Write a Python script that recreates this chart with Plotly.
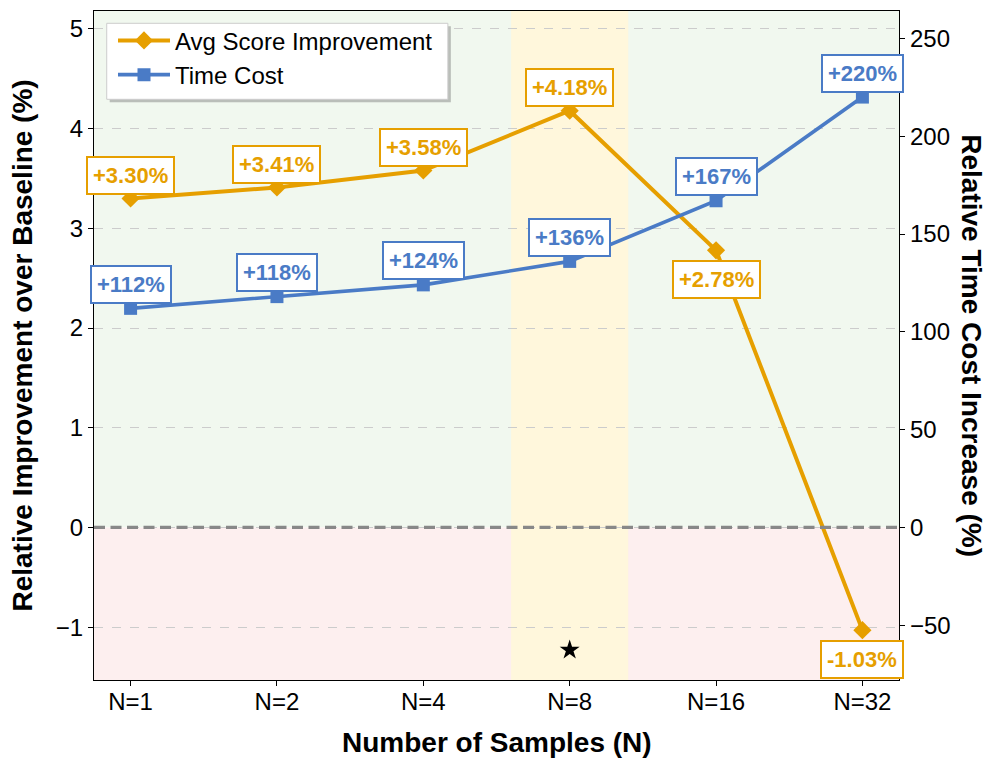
import plotly.graph_objects as go

categories = ["N=1", "N=2", "N=4", "N=8", "N=16", "N=32"]
score_improvement = [3.30, 3.41, 3.58, 4.18, 2.78, -1.03]
time_cost = [112, 118, 124, 136, 167, 220]
label_below = [False, False, False, False, True, True]
best_index = 3

ORANGE = "#E69F00"
BLUE = "#4A7BC6"
FONT = "Liberation Sans"

y_lo = min(score_improvement) - 0.5
y_hi = max(score_improvement) + 1.0
y2_hi = max(time_cost) * 1.2
y2_lo = y2_hi * y_lo / y_hi

fig = go.Figure()

# baseline at 0 drawn as a trace so it sits between the background and the data lines
fig.add_trace(go.Scatter(
    x=[-0.25, 5.25], y=[0, 0], mode="lines", yaxis="y", xaxis="x2",
    line=dict(color="#888888", width=3.2, dash="11px,5.5px"),
    showlegend=False, hoverinfo="skip",
))
fig.add_trace(go.Scatter(
    x=categories, y=score_improvement, name="Avg Score Improvement",
    mode="lines+markers", yaxis="y",
    line=dict(color=ORANGE, width=4),
    marker=dict(symbol="diamond", size=14, color=ORANGE),
))
fig.add_trace(go.Scatter(
    x=categories, y=time_cost, name="Time Cost",
    mode="lines+markers", yaxis="y2",
    line=dict(color=BLUE, width=3.6),
    marker=dict(symbol="square", size=13, color=BLUE),
))
fig.add_trace(go.Scatter(
    x=[categories[best_index]], y=[y_lo + 0.3], mode="markers", yaxis="y",
    marker=dict(symbol="star", size=15, color="black"), showlegend=False,
    hoverinfo="skip",
))

shapes = [
    dict(type="rect", xref="paper", yref="y", x0=0, x1=1, y0=0, y1=y_hi,
         fillcolor="#F1F8EF", line_width=0, layer="below"),
    dict(type="rect", xref="paper", yref="y", x0=0, x1=1, y0=y_lo, y1=0,
         fillcolor="#FDEFEF", line_width=0, layer="below"),
    dict(type="rect", xref="x", yref="paper", x0=best_index - 0.4, x1=best_index + 0.4,
         y0=0, y1=1, fillcolor="#FFF7DC", line_width=0, layer="below"),
    # legend shadow and box
    dict(type="rect", xref="paper", yref="paper", x0=0.0195, x1=0.4433, y0=0.8635, y1=0.9771,
         fillcolor="rgba(120,120,120,0.45)", line_width=0, layer="above"),
    dict(type="rect", xref="paper", yref="paper", x0=0.0158, x1=0.4396, y0=0.868, y1=0.9816,
         fillcolor="white", line=dict(color="#CCCCCC", width=1), layer="above"),
]

annotations = []
for c, v, below in zip(categories, score_improvement, label_below):
    annotations.append(dict(
        x=c, y=v, xref="x", yref="y", text=f"{v:+.2f}%", showarrow=False,
        yshift=-29.5 if below else 23,
        font=dict(family=FONT, size=22, color=ORANGE, weight="bold"),
        bgcolor="white", bordercolor=ORANGE, borderwidth=2, borderpad=5,
    ))
for c, v in zip(categories, time_cost):
    annotations.append(dict(
        x=c, y=v, xref="x", yref="y2", text=f"+{v:.0f}%", showarrow=False,
        yshift=24,
        font=dict(family=FONT, size=22, color=BLUE, weight="bold"),
        bgcolor="white", bordercolor=BLUE, borderwidth=2, borderpad=5,
    ))
annotations.append(dict(
    x=-0.4, y=0.23, xref="x", yref="y", text="Baseline (0%)", showarrow=False,
    xanchor="left", yanchor="middle",
    font=dict(family=FONT, size=22, color="#666666", weight="bold"),
))
annotations.append(dict(
    x=-0.0894, y=0.5, xref="paper", yref="paper", text="Relative Improvement over Baseline (%)",
    showarrow=False, textangle=-90, xanchor="center", yanchor="middle",
    font=dict(family=FONT, size=28, color="black", weight="bold"),
))
annotations.append(dict(
    x=1.0897, y=0.5, xref="paper", yref="paper", text="Relative Time Cost Increase (%)",
    showarrow=False, textangle=90, xanchor="center", yanchor="middle",
    font=dict(family=FONT, size=28, color="black", weight="bold"),
))
annotations.append(dict(
    x=0.5, y=-0.0927, xref="paper", yref="paper", text="Number of Samples (N)",
    showarrow=False, xanchor="center", yanchor="middle",
    font=dict(family=FONT, size=28, color="black", weight="bold"),
))

axis_common = dict(
    showline=True, linecolor="black", linewidth=1.3, ticks="outside", ticklen=5,
    tickwidth=1.3, tickcolor="black", tickfont=dict(family=FONT, size=24, color="black"),
    zeroline=False,
)

fig.update_layout(
    width=989, height=761,
    margin=dict(l=86, r=98, t=3, b=89),
    paper_bgcolor="white", plot_bgcolor="white",
    font=dict(family=FONT, color="black"),
    xaxis=dict(type="category", categoryorder="array", categoryarray=categories,
               range=[-0.25, 5.25], mirror=True, showgrid=False,
               ticklabelstandoff=-5, **axis_common),
    xaxis2=dict(range=[-0.25, 5.25], overlaying="x", visible=False),
    yaxis=dict(range=[y_lo, y_hi], tickvals=[-1, 0, 1, 2, 3, 4, 5], mirror=True,
               showgrid=True, gridcolor="#CCCCCC", gridwidth=1, griddash="dash",
               **axis_common),
    yaxis2=dict(range=[y2_lo, y2_hi], tickvals=[-50, 0, 50, 100, 150, 200, 250],
                overlaying="y", side="right", showgrid=False, **axis_common),
    legend=dict(x=0.0236, y=0.989, xanchor="left", yanchor="top",
                bgcolor="rgba(0,0,0,0)", borderwidth=0,
                font=dict(family=FONT, size=24, color="black"),
                itemwidth=52, tracegroupgap=0),
    shapes=shapes,
    annotations=annotations,
    showlegend=True,
)

fig.write_html("out.html")
